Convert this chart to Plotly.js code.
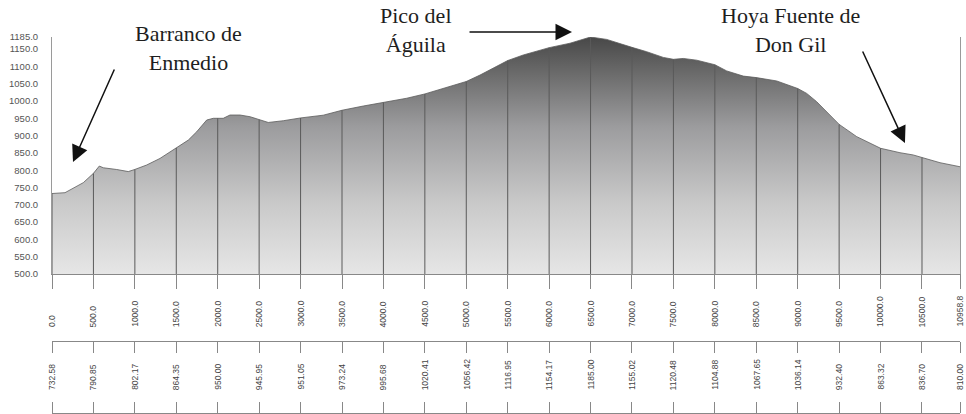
<!DOCTYPE html>
<html>
<head>
<meta charset="utf-8">
<script src="https://cdn.plot.ly/plotly-3.0.1.min.js"></script>
<style>html,body{margin:0;padding:0;background:#fff;}#chart{width:966px;height:414px;}</style>
</head>
<body>
<div id="chart"></div>
<script>
// Tick positions (distance, m) and their labels
const distTicks = [0,500,1000,1500,2000,2500,3000,3500,4000,4500,5000,5500,6000,6500,7000,7500,8000,8500,9000,9500,10000,10500,10958.8];
const distLabels = ["0.0","500.0","1000.0","1500.0","2000.0","2500.0","3000.0","3500.0","4000.0","4500.0","5000.0","5500.0","6000.0","6500.0","7000.0","7500.0","8000.0","8500.0","9000.0","9500.0","10000.0","10500.0","10958.8"];
// Elevation at each tick (m)
const elevTicks = [732.58,790.85,802.17,864.35,950.00,945.95,951.05,973.24,995.68,1020.41,1056.42,1116.95,1154.17,1185.00,1155.02,1120.48,1104.88,1067.65,1036.14,932.40,863.32,836.70,810.00];
const elevLabels = ["732.58","790.85","802.17","864.35","950.00","945.95","951.05","973.24","995.68","1020.41","1056.42","1116.95","1154.17","1185.00","1155.02","1120.48","1104.88","1067.65","1036.14","932.40","863.32","836.70","810.00"];
// Profile
const profDist = [0,157,378,500,571,619,781,921,1000,1143,1303,1500,1645,1746,1867,1947,2000,2067,2148,2269,2390,2500,2610,2792,3000,3274,3500,3757,4000,4281,4500,4764,5000,5166,5326,5500,5688,6000,6252,6500,6695,6855,7000,7177,7378,7500,7619,7781,8000,8143,8343,8500,8746,9000,9108,9229,9390,9500,9712,9912,10000,10234,10395,10500,10717,10958.8];
const profElev = [732.58,735,764,790.85,812,807,802,796,802.17,815,834,864.35,887,911,945,950,950,950,959.5,959.5,954.6,945.95,938,943,951.05,959,973.24,985.5,995.68,1008,1020.41,1039,1056.42,1075,1094,1116.95,1133,1154.17,1167,1185,1178,1167,1155.02,1142.5,1126,1120.48,1123,1118,1104.88,1087,1072,1067.65,1058,1036.14,1022,998,959.5,932.40,897,873,863.32,850.6,844,836.70,821.7,810];
// Y axis ticks
const yTicks = [500,550,600,650,700,750,800,850,900,950,1000,1050,1100,1150,1185];
const yLabels = ["500.0","550.0","600.0","650.0","700.0","750.0","800.0","850.0","900.0","950.0","1000.0","1050.0","1100.0","1150.0","1185.0"];
// Place labels
const placeNames = ["Barranco de<br>Enmedio","Pico del<br>Águila","Hoya Fuente de<br>Don Gil"];

const BASE = 500;
// vertical lines at each tick, from base to profile
const vx = [], vy = [];
for (let i = 0; i < distTicks.length - 1; i++) {
  vx.push(distTicks[i], distTicks[i], null);
  vy.push(BASE, elevTicks[i], null);
}

const traces = [
  {
    x: profDist, y: profElev, type: 'scatter', mode: 'lines',
    line: {color: '#5c5c5c', width: 0.8},
    fill: 'tozeroy',
    fillgradient: {type: 'vertical', start: 500, stop: 1185,
      colorscale: [[0,'#e6e6e6'],[0.3,'#c9c9c9'],[0.62,'#9c9c9e'],[0.85,'#6a6a6a'],[1,'#484848']]},
    hoverinfo: 'skip', showlegend: false
  },
  {
    x: vx, y: vy, type: 'scatter', mode: 'lines',
    line: {color: '#5a5a5a', width: 1}, hoverinfo: 'skip', showlegend: false
  },
  {
    x: distTicks, y: elevTicks, xaxis: 'x2', yaxis: 'y', type: 'scatter', mode: 'lines',
    line: {width: 0, color: 'rgba(0,0,0,0)'}, hoverinfo: 'skip', showlegend: false
  },
  {
    x: distTicks, y: elevTicks, xaxis: 'x3', yaxis: 'y', type: 'scatter', mode: 'lines',
    line: {width: 0, color: 'rgba(0,0,0,0)'}, hoverinfo: 'skip', showlegend: false
  }
];

const labelFont = 'Liberation Sans';
const xr = [distTicks[0], distTicks[distTicks.length-1]];

const annotations = [];
// tick label rows (rotated, text starts at the bottom of each row)
for (let i = 0; i < distTicks.length; i++) {
  annotations.push({
    text: distLabels[i], xref: 'x', yref: 'paper', x: distTicks[i], y: 0.2261,
    textangle: -90, xanchor: 'center', yanchor: 'bottom', showarrow: false,
    borderpad: 0, font: {family: labelFont, size: 8.5, color: '#444'}
  });
  annotations.push({
    text: elevLabels[i], xref: 'x', yref: 'paper', x: distTicks[i], y: 0.0585,
    textangle: -90, xanchor: 'center', yanchor: 'bottom', showarrow: false,
    borderpad: 0, font: {family: labelFont, size: 8.5, color: '#444'}
  });
}
const textPos = [[0.1498, 0.971],[0.4009, 1.0186],[0.8128, 1.0186]];
const tipPos = [[0.02313, 0.6676],[0.5727, 1.0133],[0.9394, 0.7181]];
const tailOff = [[42,-94],[-104,0],[-43,-93]];
for (let i = 0; i < placeNames.length; i++) {
  annotations.push({
    text: placeNames[i], xref: 'paper', yref: 'paper', x: textPos[i][0], y: textPos[i][1],
    xanchor: 'center', yanchor: 'middle', showarrow: false,
    font: {family: 'Liberation Serif, Times New Roman, serif', size: 22, color: '#1e1e1e'}
  });
  annotations.push({
    text: '', xref: 'paper', yref: 'paper', x: tipPos[i][0], y: tipPos[i][1],
    ax: tailOff[i][0], ay: tailOff[i][1], showarrow: true,
    arrowhead: 2, arrowsize: 2.2, arrowwidth: 1.5, arrowcolor: '#111', standoff: 0
  });
}

const layout = {
  width: 966, height: 414,
  margin: {l: 52, r: 6, t: 37, b: 1, pad: 0},
  paper_bgcolor: '#fff', plot_bgcolor: '#fff',
  showlegend: false,
  xaxis: {
    range: xr, anchor: 'y', showgrid: false, zeroline: false,
    showline: true, linecolor: '#888', linewidth: 1,
    ticks: 'outside', ticklen: 14, tickcolor: '#888', tickwidth: 1,
    tickmode: 'array', tickvals: distTicks, showticklabels: false
  },
  xaxis2: {
    range: xr, overlaying: 'x', anchor: 'free', position: 0.1915, side: 'bottom',
    showgrid: false, zeroline: false,
    showline: true, linecolor: '#888', linewidth: 1,
    ticks: 'outside', ticklen: 11, tickcolor: '#888', tickwidth: 1,
    tickmode: 'array', tickvals: distTicks, showticklabels: false
  },
  xaxis3: {
    range: xr, overlaying: 'x', anchor: 'free', position: 0, side: 'top',
    showgrid: false, zeroline: false,
    showline: true, linecolor: '#888', linewidth: 1,
    ticks: 'outside', ticklen: 11, tickcolor: '#888', tickwidth: 1,
    tickmode: 'array', tickvals: distTicks, showticklabels: false
  },
  yaxis: {
    domain: [0.3697, 1], range: [500, 1185], showgrid: false, zeroline: false,
    showline: true, mirror: true, linecolor: '#9a9a9a', linewidth: 1,
    ticks: '', tickmode: 'array', tickvals: yTicks, ticktext: yLabels,
    tickfont: {family: 'Liberation Sans, Arial, sans-serif', size: 9.5, color: '#555'}, ticklabelstandoff: 11
  },
  annotations: annotations
};

Plotly.newPlot('chart', traces, layout, {displayModeBar: false, staticPlot: true});
</script>
</body>
</html>
